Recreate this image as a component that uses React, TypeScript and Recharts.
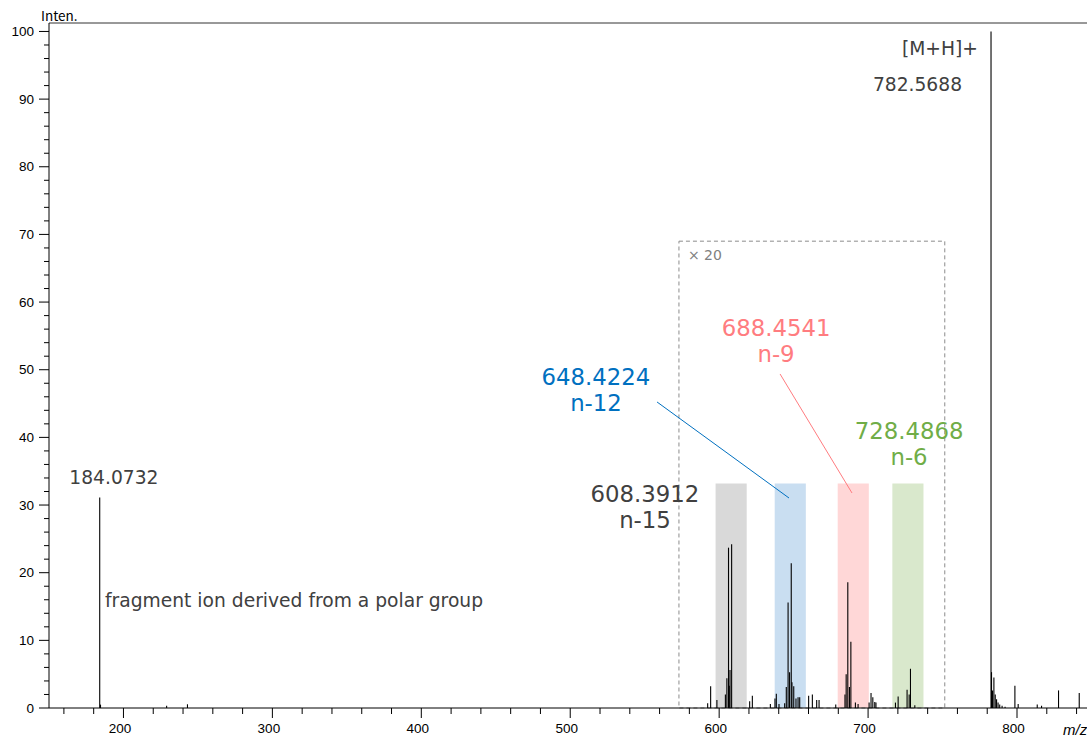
import React from "react";
import {
  BarChart,
  Bar,
  XAxis,
  YAxis,
  ReferenceArea,
  ReferenceLine,
  ReferenceDot,
} from "recharts";

// ── Layout ───────────────────────────────────────────────

const W = 1087;
const H = 736;
const MZ_MIN = 150;
const MZ_MAX = 847;
const Y_MAX = 101.25;
const ZOOM = 20;

const TICK_FONT = "'Liberation Sans', Arial, sans-serif";
const NOTE_FONT = "'DejaVu Sans', Verdana, sans-serif";
const DARK = "#404040";

// ── Spectrum data ────────────────────────────────────────

// peaks drawn at full scale (relative intensity, %)
const fullMz = [
  184.0732, 184.6, 229, 243, 782.5688, 782.9, 783.6, 784.5, 785.4, 786.3,
  787.3, 788.4, 790, 792, 798.6, 800.8, 813.6, 816.5, 827.9, 841.8,
];
const fullInt = [
  31.1, 0.5, 0.35, 0.55, 100, 5.3, 2.6, 4.5, 2.0, 1.3, 0.8, 0.5, 0.35, 0.2,
  3.3, 0.6, 0.5, 0.35, 2.6, 2.2,
];

// peaks inside the magnified window (real intensity, drawn ×20)
const zoomMz = [
  592.3, 594.3, 598.5, 604.2, 605.2, 606.3, 606.8, 607.3, 608.3912, 620.5,
  622.3, 634.4, 637.5, 638.4, 640.2, 644.0, 645.1, 646.3, 647.3, 648.4224,
  648.9, 650.1, 651.6, 653.0, 654.1, 660.1, 662.6, 665.5, 667.1, 678.3,
  684.5, 685.3, 686.4, 687.5, 688.4541, 691.5, 693.3, 700.7, 702.0, 703.2,
  704.5, 705.3, 718.4, 720.2, 726.2, 727.6, 728.4868, 731.4,
];
const zoomInt = [
  0.035, 0.16, 0.06, 0.1, 0.22, 1.185, 0.165, 0.28, 1.21, 0.05,
  0.09, 0.03, 0.07, 0.105, 0.03, 0.035, 0.155, 0.78, 0.265, 1.07,
  0.19, 0.16, 0.07, 0.08, 0.08, 0.09, 0.1, 0.06, 0.06, 0.025,
  0.1, 0.25, 0.93, 0.155, 0.49, 0.04, 0.03, 0.04, 0.11, 0.08,
  0.045, 0.04, 0.04, 0.085, 0.135, 0.1, 0.29, 0.02,
];

// magnified window and the four homologue bands
const zoomBox = { x1: 573, x2: 751.5, top: 69 };
const bandStart = [597.6, 637.3, 679.6, 716.3];
const bandWidth = 20.9;
const bandTop = 33.2;
const bandColors = ["#d9d9d9", "#c9def1", "#ffd7d7", "#d9e8cc"];

// ── Annotations ──────────────────────────────────────────

type Note = {
  mz: number;
  y: number;
  lines: string[];
  color: string;
  size: number;
  anchor: "start" | "middle" | "end";
};

const notes: Note[] = [
  { mz: 773.8, y: 97.55, lines: ["[M+H]+"], color: DARK, size: 18.7, anchor: "end" },
  { mz: 763.1, y: 92.1, lines: ["782.5688"], color: DARK, size: 18.7, anchor: "end" },
  { mz: 193.6, y: 34.0, lines: ["184.0732"], color: DARK, size: 18.7, anchor: "middle" },
  {
    mz: 187.6,
    y: 15.96,
    lines: ["fragment ion derived from a polar group"],
    color: DARK,
    size: 18.7,
    anchor: "start",
  },
  { mz: 550.2, y: 31.63, lines: ["608.3912", "n-15"], color: DARK, size: 22.8, anchor: "middle" },
  { mz: 517.3, y: 48.92, lines: ["648.4224", "n-12"], color: "#0070c0", size: 22.8, anchor: "middle" },
  { mz: 638.2, y: 56.17, lines: ["688.4541", "n-9"], color: "#ff7c80", size: 22.8, anchor: "middle" },
  { mz: 727.5, y: 40.94, lines: ["728.4868", "n-6"], color: "#70ad47", size: 22.8, anchor: "middle" },
];

const leaders = [
  { from: { x: 558.3, y: 45.23 }, to: { x: 646.9, y: 31.04 }, color: "#0070c0" },
  { from: { x: 640.9, y: 49.37 }, to: { x: 689.2, y: 31.78 }, color: "#ff7c80" },
];

const xTicks = Array.from({ length: 35 }, (_, i) => 160 + i * 20);
const yTicks = Array.from({ length: 51 }, (_, i) => i * 2);

const peaks = [
  ...fullMz.map((mz, i) => ({ mz, y: fullInt[i] })),
  ...zoomMz.map((mz, i) => ({ mz, y: zoomInt[i] * ZOOM })),
].sort((a, b) => a.mz - b.mz);

// ── Render helpers ───────────────────────────────────────

function PeakStick(p: any) {
  if (p.height == null || p.width == null) return null;
  const cx = p.x + p.width / 2;
  return (
    <line x1={cx} x2={cx} y1={p.y} y2={p.y + p.height} stroke="#000" strokeWidth={1.1} />
  );
}

function XTick({ x, y, payload }: any) {
  const major = payload.value % 100 === 0;
  return (
    <g>
      <line x1={x} x2={x} y1={y} y2={y + (major ? 10 : 6)} stroke="#000" />
      {major && (
        <text
          x={x - 3.5}
          y={y + 20}
          textAnchor="middle"
          dominantBaseline="central"
          fontFamily={TICK_FONT}
          fontSize={13.5}
          fill="#000"
        >
          {payload.value}
        </text>
      )}
    </g>
  );
}

function YTick({ x, y, payload }: any) {
  const major = payload.value % 10 === 0;
  return (
    <g>
      <line x1={x - (major ? 10 : 5)} x2={x} y1={y} y2={y} stroke="#000" />
      {major && (
        <text
          x={x - 15}
          y={y}
          textAnchor="end"
          dominantBaseline="central"
          fontFamily={TICK_FONT}
          fontSize={13.5}
          fill="#000"
        >
          {payload.value}
        </text>
      )}
    </g>
  );
}

function NoteText({ viewBox, note }: any) {
  const n: Note = note;
  const lh = n.size * 1.15;
  return (
    <g>
      {n.lines.map((line, i) => (
        <text
          key={i}
          x={viewBox.x}
          y={viewBox.y + i * lh}
          textAnchor={n.anchor}
          dominantBaseline="central"
          fontFamily={NOTE_FONT}
          fontSize={n.size}
          fill={n.color}
        >
          {line}
        </text>
      ))}
    </g>
  );
}

function YTitle({ viewBox }: any) {
  return (
    <text
      x={viewBox.x + viewBox.width - 8}
      y={viewBox.y - 8}
      dominantBaseline="central"
      fontFamily="'Noto Sans CJK JP', sans-serif"
      fontSize={13.5}
      fill="#000"
    >
      Inten.
    </text>
  );
}

function XTitle({ viewBox }: any) {
  return (
    <text
      x={viewBox.x + viewBox.width - 24}
      y={viewBox.y + 21}
      dominantBaseline="central"
      fontFamily={TICK_FONT}
      fontStyle="italic"
      fontSize={15}
      fill="#000"
    >
      m/z
    </text>
  );
}

// ── Chart ────────────────────────────────────────────────

export default function App() {
  return (
    <div style={{ position: "absolute", left: 0, top: 0, width: W, height: H, background: "#fff" }}>
      <BarChart
        width={W}
        height={H}
        data={peaks}
        margin={{ top: 23, right: 0, bottom: 0, left: 0 }}
      >
        <XAxis
          dataKey="mz"
          type="number"
          domain={[MZ_MIN, MZ_MAX]}
          allowDataOverflow
          ticks={xTicks}
          interval={0}
          tick={<XTick />}
          tickLine={false}
          tickSize={0}
          tickMargin={0}
          height={28}
          axisLine={{ stroke: "#000" }}
          label={<XTitle />}
        />
        <YAxis
          type="number"
          domain={[0, Y_MAX]}
          allowDataOverflow
          ticks={yTicks}
          interval={0}
          tick={<YTick />}
          tickLine={false}
          tickSize={0}
          tickMargin={0}
          width={49}
          axisLine={{ stroke: "#000" }}
          label={<YTitle />}
        />

        {bandStart.map((s, i) => (
          <ReferenceArea
            key={i}
            x1={s}
            x2={s + bandWidth}
            y1={0}
            y2={bandTop}
            fill={bandColors[i]}
            fillOpacity={1}
            stroke="none"
          />
        ))}
        <ReferenceArea
          x1={zoomBox.x1}
          x2={zoomBox.x2}
          y1={0}
          y2={zoomBox.top}
          fill="none"
          stroke="#8c8c8c"
          strokeDasharray="4 3"
          label={{
            value: `× ${ZOOM}`,
            position: "insideTopLeft",
            offset: 9,
            fill: "#808080",
            fontSize: 14,
            fontFamily: NOTE_FONT,
          }}
        />
        <ReferenceLine y={Y_MAX} stroke="#333" />

        <Bar dataKey="y" barSize={1} isAnimationActive={false} shape={<PeakStick />} />

        {leaders.map((l, i) => (
          <ReferenceLine key={i} segment={[l.from, l.to]} stroke={l.color} strokeWidth={1} />
        ))}
        {notes.map((n, i) => (
          <ReferenceDot
            key={i}
            x={n.mz}
            y={n.y}
            r={0}
            fill="none"
            stroke="none"
            label={<NoteText note={n} />}
          />
        ))}
      </BarChart>
    </div>
  );
}
